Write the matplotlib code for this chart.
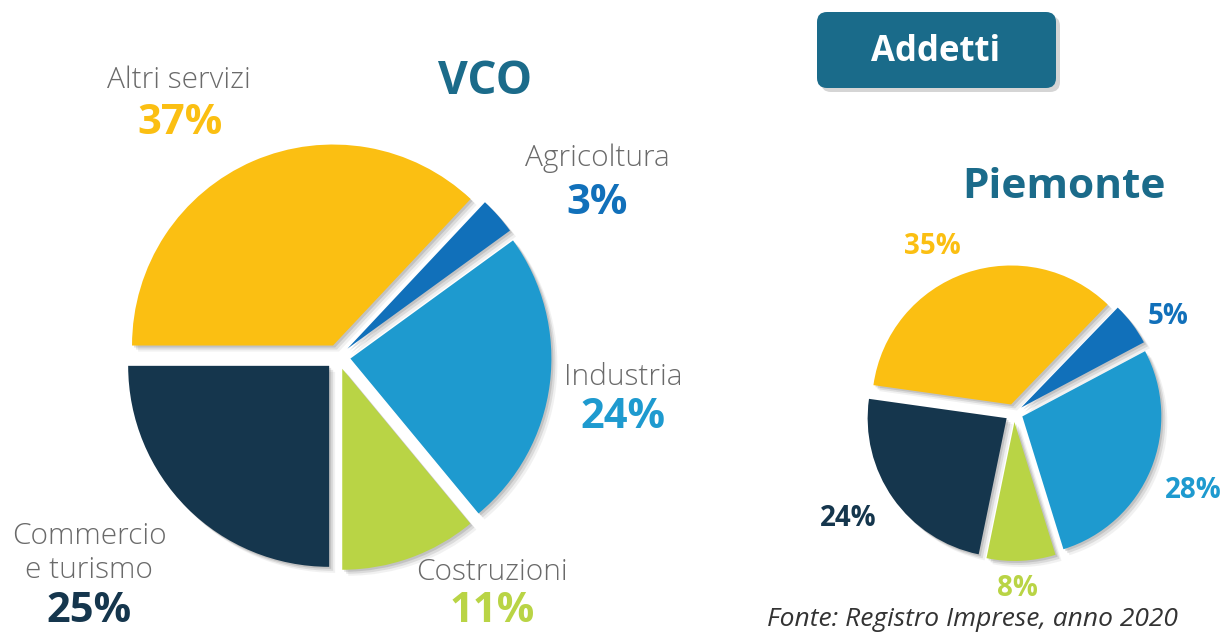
import matplotlib
matplotlib.use("Agg")
import matplotlib.pyplot as plt
from matplotlib.patches import FancyBboxPatch

# sectors in drawing order (counter-clockwise from the left horizontal)
sectors = ["Commercio\ne turismo", "Costruzioni", "Industria", "Agricoltura", "Altri servizi"]
vco = [25, 11, 24, 3, 37]
piemonte = [24, 8, 28, 5, 35]
colors = ["#15364d", "#b9d445", "#1e9acf", "#1170ba", "#fbbf12"]

TEAL = "#1b6b8a"
GRAY = "#6a6a6a"
W, H = 1226, 632
FONT = ["Open Sans", "DejaVu Sans"]


def Y(py):
    # pixel row -> data y
    return H - py


def draw_pie(ax, values, center, radius, gap, startangle):
    cx, cy = center
    # explode offset is in data units (= pixels here)
    expl = [gap] * len(values)
    # soft drop shadow, a few translucent layers
    for off, a in [(2, 0.18), (4, 0.14), (6, 0.08)]:
        ax.pie(values, colors=["#555555"] * len(values), startangle=startangle,
               center=(cx + off, cy - off), radius=radius, explode=expl,
               wedgeprops=dict(linewidth=0, alpha=a))
    ax.pie(values, colors=colors, startangle=startangle, center=(cx, cy),
           radius=radius, explode=expl, wedgeprops=dict(linewidth=0))


fig = plt.figure(figsize=(W / 100, H / 100), dpi=100)
ax = fig.add_axes([0, 0, 1, 1])

draw_pie(ax, vco, (338, Y(357)), 201, 12.5, 180)
draw_pie(ax, piemonte, (1014, Y(413)), 139, 9, 172)

ax.set_xlim(0, W)
ax.set_ylim(0, H)
ax.set_aspect("equal")
ax.axis("off")

# titles
ax.text(485, Y(81), "VCO", color=TEAL, fontsize=33, fontweight="bold",
        ha="center", va="center", family=FONT)
ax.text(1064, Y(188), "Piemonte", color=TEAL, fontsize=30.5, fontweight="bold",
        ha="center", va="center", family=FONT)

# Addetti box
shadow = FancyBboxPatch((821, Y(92)), 239, 76, boxstyle="round,pad=0,rounding_size=10",
                        fc="#888888", ec="none", alpha=0.35)
box = FancyBboxPatch((817, Y(88)), 239, 76, boxstyle="round,pad=0,rounding_size=10",
                     fc="#1a6b8a", ec="none")
ax.add_patch(shadow)
ax.add_patch(box)
ax.text(936, Y(52), "Addetti", color="white", fontsize=25, fontweight="bold",
        ha="center", va="center", family=FONT)

# VCO labels: (name, pct position)
vco_label_pos = [(89, 553), (492, 572), (623, 377), (597, 158), (179, 80)]
vco_pct_pos = [(89, 612), (492, 612), (623, 418), (597, 203), (180, 123)]
for name, v, c, (lx, ly), (px, py) in zip(sectors, vco, colors, vco_label_pos, vco_pct_pos):
    ax.text(lx, Y(ly), name, color=GRAY, fontsize=21.5, fontweight="light",
            ha="center", va="center", family=FONT, linespacing=1.2)
    ax.text(px, Y(py), f"{v}%", color=c, fontsize=30, fontweight="bold",
            ha="center", va="center", family=FONT)

# Piemonte labels
pie_pct_pos = [(848, 518), (1017, 589), (1193, 490), (1168, 316), (932, 247)]
for v, c, (px, py) in zip(piemonte, colors, pie_pct_pos):
    ax.text(px, Y(py), f"{v}%", color=c, fontsize=20, fontweight="bold",
            ha="center", va="center", family=FONT)

ax.text(972, Y(619), "Fonte: Registro Imprese, anno 2020", color="#333333",
        fontsize=19, fontstyle="italic", ha="center", va="center", family=FONT)

fig.savefig("out.png", dpi=100)
